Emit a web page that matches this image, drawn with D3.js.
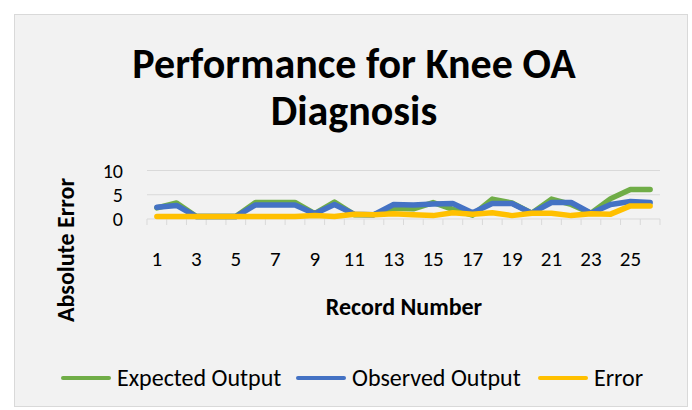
<!DOCTYPE html>
<html>
<head>
<meta charset="utf-8">
<script src="https://cdn.jsdelivr.net/npm/d3@7"></script>
<style>
  body { margin: 0; background: #fff; }
  text { font-family: Carlito, Lato, "Open Sans", sans-serif; fill: #000; }
</style>
</head>
<body>
<svg width="692" height="410"></svg>
<script>
(function (d3) {
  'use strict';

  // data
  const records = d3.range(1, 27);
  const expected = [2.3, 3.3, 0.5, 0.5, 0.5, 3.4, 3.4, 3.4, 1.1, 3.5, 0.9, 0.9, 2.2, 2.1,
                    3.4, 2.0, 0.8, 4.1, 3.3, 1.2, 4.1, 3.0, 1.2, 4.2, 6.1, 6.1];
  const observed = [2.4, 2.8, 0.5, 0.5, 0.5, 2.9, 2.9, 2.9, 1.1, 3.0, 1.0, 0.9, 3.0, 2.9,
                    3.1, 3.2, 1.3, 3.2, 3.2, 1.2, 3.4, 3.4, 1.2, 3.0, 3.6, 3.4];
  const errors = [0.5, 0.5, 0.5, 0.5, 0.5, 0.5, 0.5, 0.5, 0.7, 0.5, 1.0, 0.9, 1.1, 0.9,
                  0.7, 1.3, 1.0, 1.3, 0.7, 1.2, 1.2, 0.7, 1.1, 1.0, 2.7, 2.7];
  const yTicks = [0, 5, 10];
  const seriesNames = ['Expected Output', 'Observed Output', 'Error'];
  const colors = ['#70ad47', '#4472c4', '#ffc000'];

  const svg = d3.select('svg');
  const width = +svg.attr('width');
  const height = +svg.attr('height');

  svg.append('rect')
    .attr('x', 14.5).attr('y', 14.5)
    .attr('width', width - 19).attr('height', height - 18)
    .attr('fill', '#f2f2f2')
    .attr('stroke', '#d9d9d9');

  // title
  const title = svg.append('text')
    .attr('text-anchor', 'middle')
    .attr('font-size', 42)
    .attr('font-weight', 'bold');
  title.append('tspan').attr('x', 354).attr('y', 78).text('Performance for Knee OA');
  title.append('tspan').attr('x', 354).attr('y', 125).text('Diagnosis');

  const x = d3.scaleBand()
    .domain(records)
    .range([147, 660]);

  const y = d3.scaleLinear()
    .domain([0, 10])
    .range([219, 170.5]);

  // gridlines
  svg.append('g')
    .selectAll('line')
    .data(yTicks.slice(1))
    .join('line')
      .attr('x1', 147).attr('x2', 660)
      .attr('y1', d => y(d)).attr('y2', d => y(d))
      .attr('stroke', '#d9d9d9');

  // x axis with tick marks between categories
  const xAxisG = svg.append('g').attr('transform', `translate(0, ${y(0)})`);
  xAxisG.append('line')
    .attr('x1', 147).attr('x2', 660)
    .attr('stroke', '#d9d9d9');
  xAxisG.selectAll('.tk')
    .data(records.concat([27]))
    .join('line')
      .attr('class', 'tk')
      .attr('x1', d => d === 27 ? 660 : x(d)).attr('x2', d => d === 27 ? 660 : x(d))
      .attr('y1', 0).attr('y2', 6)
      .attr('stroke', '#d9d9d9');

  svg.append('g')
    .selectAll('text')
    .data(records.filter(d => d % 2 === 1))
    .join('text')
      .attr('x', d => x(d) + x.bandwidth() / 2)
      .attr('y', 266)
      .attr('text-anchor', 'middle')
      .attr('font-size', 21)
      .text(d => d);

  // y labels
  svg.append('g')
    .selectAll('text')
    .data(yTicks)
    .join('text')
      .attr('x', 123)
      .attr('y', d => y(d) + 7)
      .attr('text-anchor', 'end')
      .attr('font-size', 20)
      .text(d => d);

  // axis titles
  svg.append('text')
    .attr('transform', 'translate(74, 250) rotate(-90)')
    .attr('text-anchor', 'middle')
    .attr('font-size', 24)
    .attr('font-weight', 'bold')
    .text('Absolute Error');

  svg.append('text')
    .attr('x', 404).attr('y', 315)
    .attr('text-anchor', 'middle')
    .attr('font-size', 24)
    .attr('font-weight', 'bold')
    .text('Record Number');

  // lines
  const line = d3.line()
    .x((d, i) => x(records[i]) + x.bandwidth() / 2)
    .y(d => y(d));

  const series = [expected, observed, errors];
  svg.append('g')
    .selectAll('path')
    .data(series)
    .join('path')
      .attr('d', line)
      .attr('fill', 'none')
      .attr('stroke', (d, i) => colors[i])
      .attr('stroke-width', 5.5)
      .attr('stroke-linejoin', 'round')
      .attr('stroke-linecap', 'round');

  // legend
  const legendX = [63, 298, 540];
  const legend = svg.append('g')
    .selectAll('g')
    .data(seriesNames)
    .join('g')
      .attr('transform', (d, i) => `translate(${legendX[i]}, 378)`);
  legend.append('line')
    .attr('x1', 0).attr('x2', 46)
    .attr('stroke', (d, i) => colors[i])
    .attr('stroke-width', 4)
    .attr('stroke-linecap', 'round');
  legend.append('text')
    .attr('x', 54).attr('y', 8)
    .attr('font-size', 24)
    .text(d => d);

}(d3));
</script>
</body>
</html>
